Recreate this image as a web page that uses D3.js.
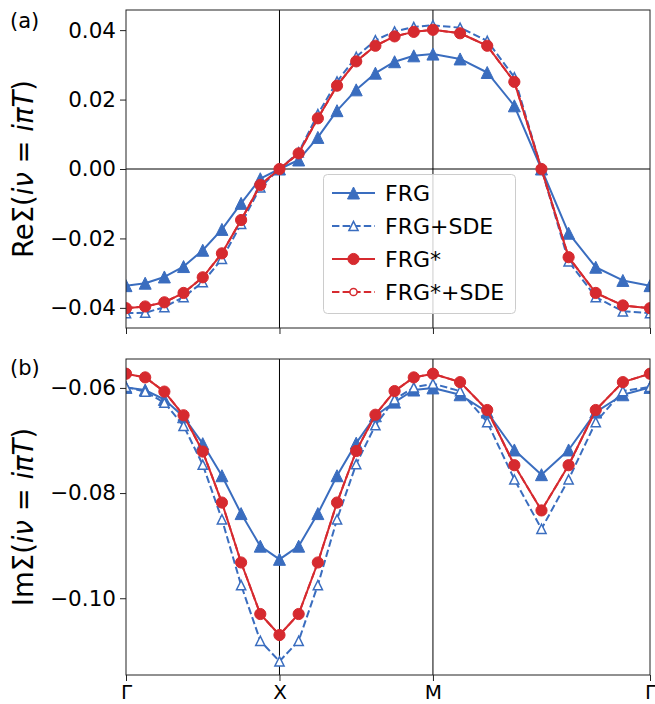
<!DOCTYPE html>
<html><head><meta charset="utf-8">
<script src="https://cdn.jsdelivr.net/npm/d3@7"></script>
<style>
body{margin:0;background:#fff;}
svg{display:block;font-family:"DejaVu Sans",sans-serif;}
</style>
</head><body>
<svg id="c" width="655" height="704"></svg>
<script>
// ---------- data ----------
const kLabels = ["Γ", "X", "M", "Γ"];
const segLengths = [1, 1, Math.SQRT2];   // Γ-X, X-M, M-Γ (relative)
const stepsPerSeg = 8;

const seriesNames = ["FRG", "FRG+SDE", "FRG*", "FRG*+SDE"];

const reFRG = [-0.0336, -0.0329, -0.0311, -0.0281, -0.0234, -0.0174, -0.0099, -0.0028, 0.0000,
  0.0026, 0.0091, 0.0168, 0.0228, 0.0276, 0.0309, 0.0326, 0.0331,
  0.0317, 0.0278, 0.0182, 0.0000, -0.0185, -0.0283, -0.0321, -0.0336];
const reFRGSDE = [-0.0415, -0.0414, -0.0398, -0.0369, -0.0326, -0.0259, -0.0158, -0.0053, 0.0000,
  0.0048, 0.0158, 0.0252, 0.0323, 0.0371, 0.0396, 0.0409, 0.0414,
  0.0407, 0.0369, 0.0264, 0.0000, -0.0266, -0.0369, -0.0410, -0.0415];
const reFRGstar = [-0.0401, -0.0396, -0.0384, -0.0357, -0.0312, -0.0243, -0.0147, -0.0046, 0.0000,
  0.0045, 0.0146, 0.0240, 0.0310, 0.0355, 0.0382, 0.0395, 0.0401,
  0.0391, 0.0355, 0.0251, 0.0000, -0.0254, -0.0357, -0.0393, -0.0401];
const reFRGstarSDE = [-0.0401, -0.0396, -0.0384, -0.0357, -0.0312, -0.0243, -0.0147, -0.0046, 0.0000,
  0.0045, 0.0146, 0.0240, 0.0310, 0.0355, 0.0382, 0.0395, 0.0401,
  0.0391, 0.0355, 0.0251, 0.0000, -0.0254, -0.0357, -0.0393, -0.0401];

const imFRG = [-0.0599, -0.0604, -0.0622, -0.0655, -0.0706, -0.0767, -0.0839, -0.0901, -0.0926,
  -0.0901, -0.0839, -0.0767, -0.0705, -0.0653, -0.0627, -0.0604, -0.0600,
  -0.0613, -0.0646, -0.0718, -0.0765, -0.0718, -0.0646, -0.0613, -0.0599];
const imFRGSDE = [-0.0598, -0.0607, -0.0628, -0.0672, -0.0746, -0.0850, -0.0975, -0.1081, -0.1120,
  -0.1081, -0.0975, -0.0850, -0.0745, -0.0671, -0.0622, -0.0599, -0.0592,
  -0.0606, -0.0665, -0.0774, -0.0868, -0.0774, -0.0665, -0.0606, -0.0598];
const imFRGstar = [-0.0573, -0.0580, -0.0607, -0.0652, -0.0721, -0.0818, -0.0932, -0.1030, -0.1070,
  -0.1030, -0.0932, -0.0818, -0.0720, -0.0651, -0.0606, -0.0580, -0.0573,
  -0.0589, -0.0642, -0.0747, -0.0833, -0.0747, -0.0642, -0.0589, -0.0573];
const imFRGstarSDE = [-0.0573, -0.0580, -0.0607, -0.0652, -0.0721, -0.0818, -0.0932, -0.1030, -0.1070,
  -0.1030, -0.0932, -0.0818, -0.0720, -0.0651, -0.0606, -0.0580, -0.0573,
  -0.0589, -0.0642, -0.0747, -0.0833, -0.0747, -0.0642, -0.0589, -0.0573];

const yTicksRe = [-0.04, -0.02, 0.00, 0.02, 0.04];
const yTicksIm = [-0.10, -0.08, -0.06];
const yDomainRe = [-0.0458, 0.0458];
const yDomainIm = [-0.1146, -0.0545];

// ---------- geometry ----------
const BLUE = "#3a6dbf", RED = "#d62a2f";
const L = 126, R = 650;
const panels = [
  {top: 10, bottom: 328, dom: yDomainRe, ticks: yTicksRe, data: [reFRG, reFRGSDE, reFRGstarSDE, reFRGstar],
   label: "Re", tag: "(a)", tagY: 28, zeroLine: true, xLabels: false},
  {top: 359, bottom: 675, dom: yDomainIm, ticks: yTicksIm, data: [imFRG, imFRGSDE, imFRGstarSDE, imFRGstar],
   label: "Im", tag: "(b)", tagY: 375, zeroLine: false, xLabels: true}
];

// k-path coordinates
const kPos = [0];
const kSym = [0];
let acc = 0;
segLengths.forEach(len => {
  for (let j = 1; j <= stepsPerSeg; j++) kPos.push(acc + len * j / stepsPerSeg);
  acc += len;
  kSym.push(acc);
});

const x = d3.scaleLinear().domain([0, acc]).range([L, R]);
const svg = d3.select("#c");

const styles = [
  {color: BLUE, dash: null, marker: "tri", open: false},
  {color: BLUE, dash: "7.4,3.2", marker: "tri", open: true},
  {color: RED, dash: "7.4,3.2", marker: "circ", open: true},
  {color: RED, dash: null, marker: "circ", open: false}
];

function markerPath(type, open) {
  if (type === "tri") {
    const s = open ? 4.6 : 6;
    return `M0,${-s}L${-s},${s}L${s},${s}Z`;
  }
  const r = open ? 3.6 : 5.6;
  const p = d3.path(); p.arc(0, 0, r, 0, 2 * Math.PI); p.closePath();
  return p.toString();
}

panels.forEach((P, pi) => {
  const y = d3.scaleLinear().domain(P.dom).range([P.bottom, P.top]);
  const g = svg.append("g");
  const clipId = "clip" + pi;
  svg.append("clipPath").attr("id", clipId).append("rect")
    .attr("x", L).attr("y", P.top).attr("width", R - L).attr("height", P.bottom - P.top);

  // reference lines
  kSym.slice(1, 3).forEach(k => {
    g.append("line").attr("x1", x(k)).attr("x2", x(k)).attr("y1", P.top).attr("y2", P.bottom)
      .attr("stroke", "#000").attr("stroke-width", 1);
  });
  if (P.zeroLine) {
    g.append("line").attr("x1", L).attr("x2", R).attr("y1", y(0)).attr("y2", y(0))
      .attr("stroke", "#000").attr("stroke-width", 1);
  }

  // series
  const plot = g.append("g").attr("clip-path", `url(#${clipId})`);
  P.data.forEach((vals, si) => {
    const st = styles[si];
    const pts = vals.map((v, i) => [x(kPos[i]), y(v)]);
    plot.append("path").attr("d", d3.line()(pts)).attr("fill", "none")
      .attr("stroke", st.color).attr("stroke-width", 2)
      .attr("stroke-dasharray", st.dash).attr("stroke-linejoin", "round");
    plot.selectAll(null).data(pts).enter().append("path")
      .attr("d", markerPath(st.marker, st.open))
      .attr("transform", d => `translate(${d[0]},${d[1]})`)
      .attr("fill", st.open ? "#fff" : st.color)
      .attr("stroke", st.color).attr("stroke-width", st.open ? 1.5 : 1);
  });

  // frame
  g.append("rect").attr("x", L).attr("y", P.top).attr("width", R - L).attr("height", P.bottom - P.top)
    .attr("fill", "none").attr("stroke", "#222").attr("stroke-width", 1);

  // y axis
  const ya = g.append("g").attr("transform", `translate(${L},0)`)
    .call(d3.axisLeft(y).tickValues(P.ticks).tickFormat(d3.format(".2f")).tickSize(6).tickPadding(4));
  ya.select(".domain").remove();
  ya.selectAll("text").attr("font-size", 21.5).attr("font-family", "DejaVu Sans").attr("fill", "#000");
  ya.selectAll("line").attr("stroke", "#222");

  // x axis
  const xa = g.append("g").attr("transform", `translate(0,${P.bottom})`)
    .call(d3.axisBottom(x).tickValues(kSym).tickFormat((d, i) => P.xLabels ? kLabels[i] : "").tickSize(6).tickPadding(7));
  xa.select(".domain").remove();
  xa.selectAll("text").attr("font-size", 20).attr("font-family", "DejaVu Sans").attr("fill", "#000")
    .attr("dy", null).attr("y", 24);
  xa.selectAll("line").attr("stroke", "#222");

  // y label
  const cy = (P.top + P.bottom) / 2;
  const t = svg.append("text").attr("transform", `translate(33,${cy}) rotate(-90)`)
    .attr("text-anchor", "middle").attr("font-size", 27.5).attr("fill", "#000");
  t.append("tspan").text(P.label + "Σ(");
  t.append("tspan").attr("font-style", "italic").text("iν");
  t.append("tspan").text(" = ");
  t.append("tspan").attr("font-style", "italic").text("iπT");
  t.append("tspan").text(")");

  // panel tag
  svg.append("text").attr("x", 10).attr("y", P.tagY).attr("font-size", 21).attr("fill", "#000").text(P.tag);
});

// legend
const lg = svg.append("g");
lg.append("rect").attr("x", 323.5).attr("y", 174.5).attr("width", 192).attr("height", 139).attr("rx", 4)
  .attr("fill", "#fff").attr("fill-opacity", 0.8).attr("stroke", "#ccc").attr("stroke-width", 1);
const legendOrder = [0, 1, 3, 2]; // styles index for FRG, FRG+SDE, FRG*, FRG*+SDE
seriesNames.forEach((name, i) => {
  const st = styles[legendOrder[i]];
  const cy = 193 + i * 33;
  lg.append("line").attr("x1", 332).attr("x2", 375).attr("y1", cy).attr("y2", cy)
    .attr("stroke", st.color).attr("stroke-width", 2).attr("stroke-dasharray", st.dash);
  lg.append("path").attr("d", markerPath(st.marker, st.open)).attr("transform", `translate(353.5,${cy})`)
    .attr("fill", st.open ? "#fff" : st.color).attr("stroke", st.color).attr("stroke-width", st.open ? 1.5 : 1);
  lg.append("text").attr("x", 385).attr("y", cy + 8).attr("font-size", 22).attr("fill", "#000").text(name);
});
</script>
</body></html>
